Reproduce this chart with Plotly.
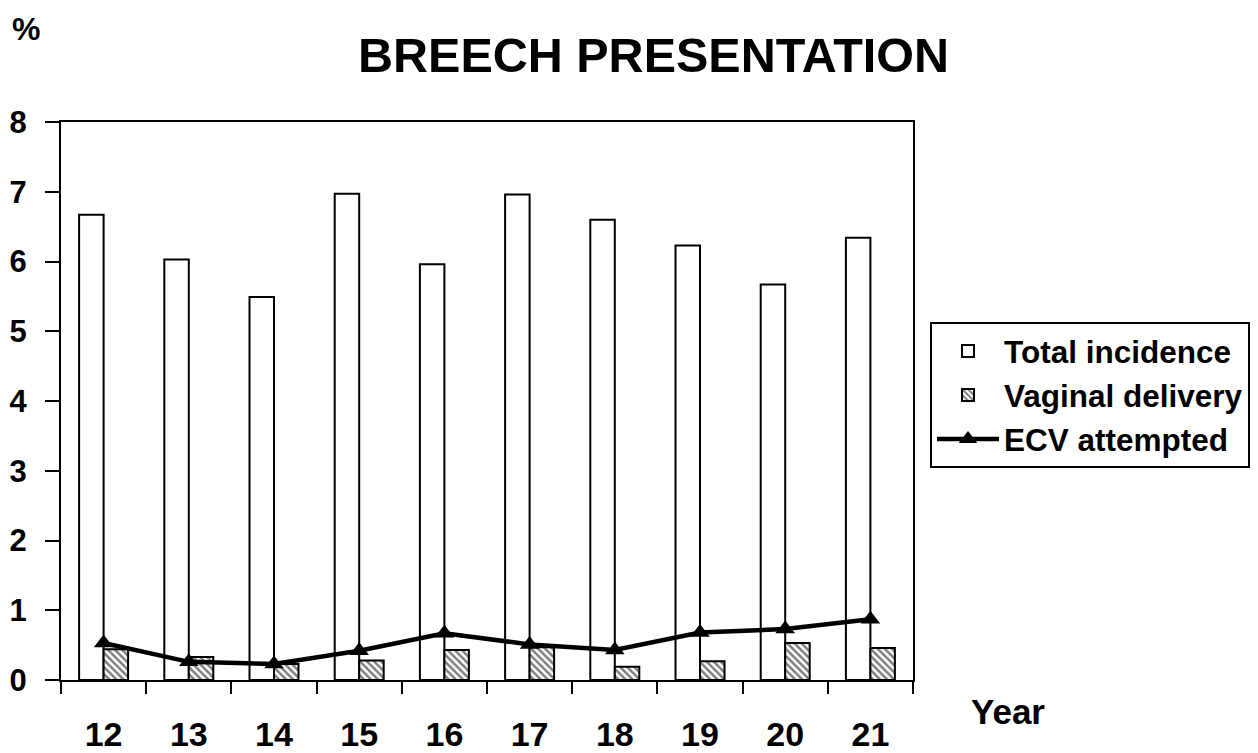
import plotly.graph_objects as go

years = ["12", "13", "14", "15", "16", "17", "18", "19", "20", "21"]
total_incidence = [6.67, 6.03, 5.49, 6.97, 5.96, 6.96, 6.60, 6.23, 5.67, 6.34]
vaginal_delivery = [0.44, 0.33, 0.23, 0.28, 0.43, 0.47, 0.19, 0.27, 0.53, 0.46]
ecv_attempted = [0.53, 0.26, 0.23, 0.42, 0.67, 0.51, 0.43, 0.68, 0.73, 0.87]

FONT = "Liberation Sans, Arial, sans-serif"
OFF = 8  # page body margin
W, H = 1258 - OFF, 753 - OFF
L, T = 61 - OFF, 122 - OFF
PW, PH = 852, 558

fig = go.Figure()
fig.add_trace(go.Bar(
    x=years, y=total_incidence, name="Total incidence", legendgroup="a",
    marker=dict(color="white", line=dict(color="black", width=2)),
))
fig.add_trace(go.Bar(
    x=years, y=vaginal_delivery, name="Vaginal delivery", legendgroup="b",
    marker=dict(color="white", line=dict(color="black", width=2),
                pattern=dict(shape="\\", fgcolor="black", bgcolor="white",
                             size=5, solidity=0.5)),
))
fig.add_trace(go.Scatter(
    x=years, y=ecv_attempted, name="ECV attempted", legendgroup="c",
    mode="lines+markers",
    line=dict(color="black", width=4.5),
    marker=dict(symbol="triangle-up", size=17, color="black"),
))


def px_x(x):
    return (x - OFF - L) / PW


def px_y(y):
    return (T + PH - (y - OFF)) / PH


fig.update_layout(
    width=W, height=H,
    margin=dict(l=L, r=W - L - PW, t=T, b=H - T - PH, autoexpand=False),
    paper_bgcolor="white", plot_bgcolor="white",
    barmode="group", bargap=0.425, bargroupgap=0,
    font=dict(family=FONT, color="black", weight="bold"),
    title=dict(text="BREECH PRESENTATION", x=(653.5 - OFF) / W, xanchor="center",
               y=1 - (55 - OFF) / H, yanchor="middle",
               font=dict(size=48.5, family=FONT, color="black", weight="bold")),
    showlegend=True,
    legend=dict(x=px_x(930), xanchor="left", y=px_y(322), yanchor="top",
                bordercolor="black", borderwidth=2, bgcolor="white",
                font=dict(size=31.5, family=FONT, color="black", weight="bold"),
                tracegroupgap=20, traceorder="normal", itemwidth=62),
    xaxis=dict(type="category", range=[-0.5, len(years) - 0.5],
               tickson="boundaries", ticks="outside", ticklen=12,
               tickwidth=2, tickcolor="black", showline=True, linecolor="black",
               linewidth=2, mirror=True, showgrid=False, zeroline=False,
               automargin=False,
               tickfont=dict(size=34, family=FONT, color="black", weight="bold"),
               ticklabelstandoff=23),
    yaxis=dict(range=[0, 8], dtick=1, ticks="outside", ticklen=14, tickwidth=2,
               tickcolor="black", showline=True, linecolor="black", linewidth=2,
               mirror=True, showgrid=False, zeroline=False, automargin=False,
               tickfont=dict(size=31, family=FONT, color="black", weight="bold"),
               ticklabelstandoff=12),
    annotations=[
        dict(text="%", xref="paper", yref="paper", x=px_x(26), y=px_y(29),
             xanchor="center", yanchor="middle", showarrow=False,
             font=dict(size=32, family=FONT, color="black", weight="bold")),
        dict(text="Year", xref="paper", yref="paper", x=px_x(1008),
             y=px_y(711), xanchor="center", yanchor="middle", showarrow=False,
             font=dict(size=35, family=FONT, color="black", weight="bold")),
    ],
)

fig.write_html("out.html")
